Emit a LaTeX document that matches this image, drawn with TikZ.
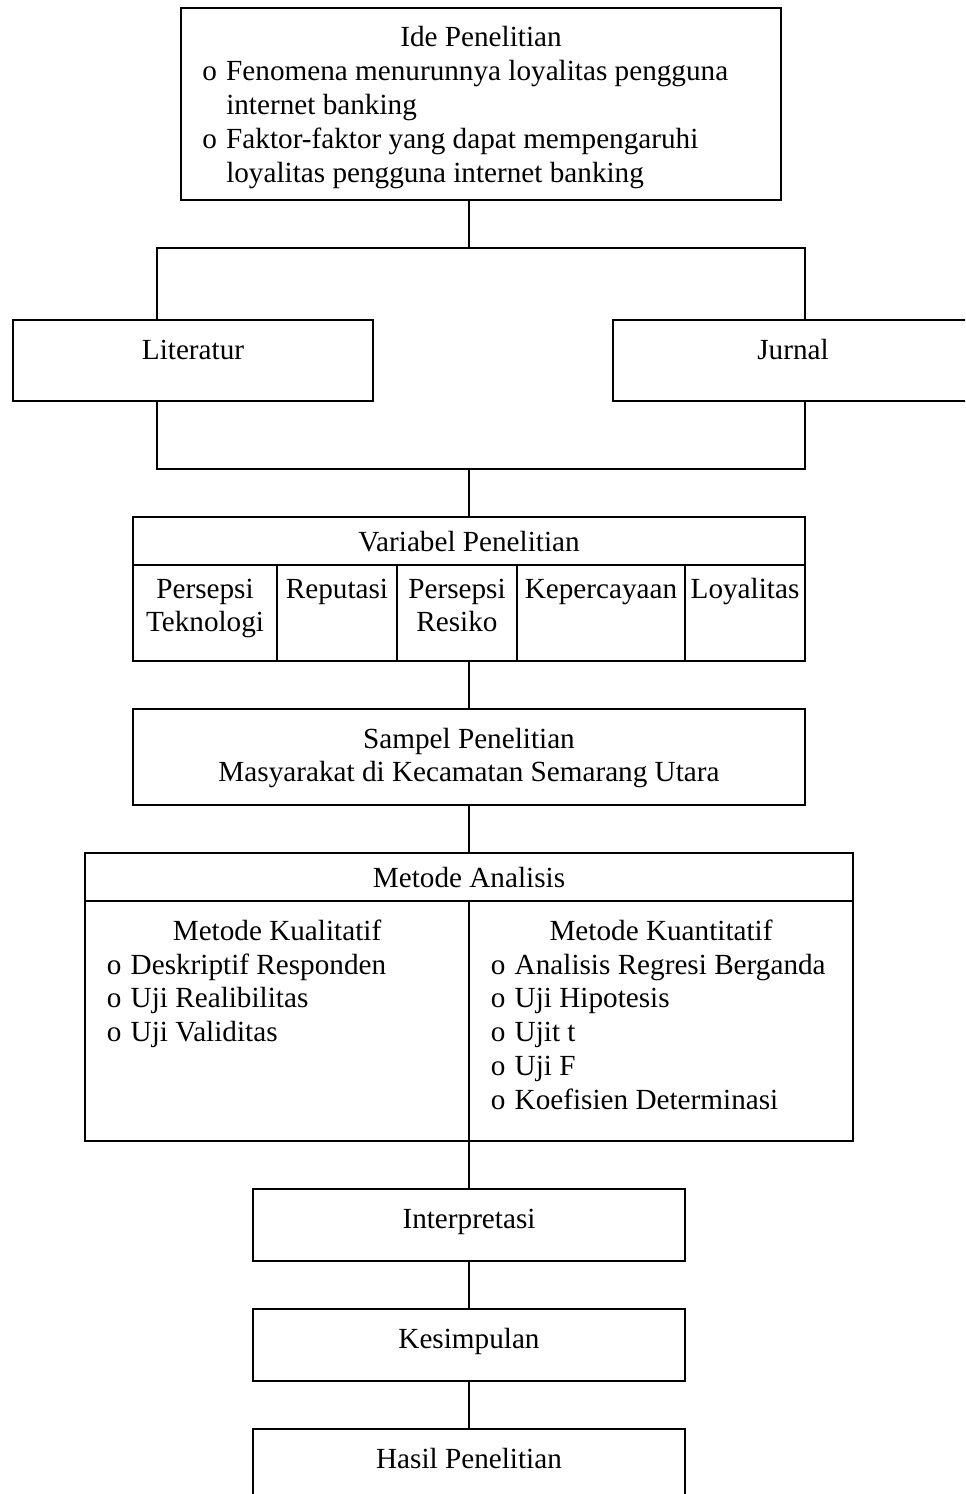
\documentclass[tikz,border=0pt]{standalone}
\usepackage{fontspec}
\setmainfont{Liberation Serif}
\usetikzlibrary{fit}
\newcommand\bul{\makebox[19.5pt][l]{\hspace{1.5pt}o}}
\begin{document}
\begin{tikzpicture}[x=0.75pt,y=-0.75pt,
  boxst/.style={draw, line width=1.4pt, inner sep=0pt},
  txt/.style={font=\fontsize{21.9pt}{25.4pt}\selectfont, inner sep=0pt, anchor=base},
  lst/.style={txt, anchor=base west},
  conn/.style={line width=1.4pt}]
\clip (0,0) rectangle (965,1494);
\fill[white] (0,0) rectangle (965,1494);

% boxes
\node[boxst, fit={(181,8)(781,200)}] (ide) {};
\node[boxst, fit={(13,320)(373,401)}] (lit) {};
\node[boxst, fit={(613,320)(973,401)}] (jur) {};
\node[boxst, fit={(133,517)(805,661)}] (var) {};
\node[boxst, fit={(133,517)(805,565)}] (varh) {};
\node[boxst, fit={(133,565)(277,661)}] (v1) {};
\node[boxst, fit={(277,565)(397,661)}] (v2) {};
\node[boxst, fit={(397,565)(517,661)}] (v3) {};
\node[boxst, fit={(517,565)(685,661)}] (v4) {};
\node[boxst, fit={(685,565)(805,661)}] (v5) {};
\node[boxst, fit={(133,709)(805,805)}] (sam) {};
\node[boxst, fit={(85,853)(853,1141)}] (met) {};
\node[boxst, fit={(85,853)(853,901)}] (meth) {};
\node[boxst, fit={(85,901)(469,1141)}] (metl) {};
\node[boxst, fit={(469,901)(853,1141)}] (metr) {};
\node[boxst, fit={(253,1189)(685,1261)}] (int) {};
\node[boxst, fit={(253,1309)(685,1381)}] (kes) {};
\node[boxst, fit={(253,1429)(685,1501)}] (has) {};

% texts
\node[txt] (ideT) at (481,47) {Ide Penelitian};
\node[lst] (ideL) at (200,81) {\begin{tabular}[t]{@{}l@{}l@{}}
\bul & Fenomena menurunnya loyalitas pengguna\\
 & internet banking\\
\bul & Faktor-faktor yang dapat mempengaruhi\\
 & loyalitas pengguna internet banking\end{tabular}};
\node[txt] (litT) at (193,359) {Literatur};
\node[txt] (jurT) at (793,359) {Jurnal};
\node[txt] (varT) at (469,551) {Variabel Penelitian};
\node[txt] (v1T) at (205,598) {\begin{tabular}[t]{@{}c@{}}Persepsi\\Teknologi\end{tabular}};
\node[txt] (v2T) at (337,598) {Reputasi};
\node[txt] (v3T) at (457,598) {\begin{tabular}[t]{@{}c@{}}Persepsi\\Resiko\end{tabular}};
\node[txt] (v4T) at (601,598) {Kepercayaan};
\node[txt] (v5T) at (745,598) {Loyalitas};
\node[txt] (samT) at (469,748) {\begin{tabular}[t]{@{}c@{}}Sampel Penelitian\\Masyarakat di Kecamatan Semarang Utara\end{tabular}};
\node[txt] (metT) at (469,887) {Metode Analisis};
\node[txt] (metlT) at (277,940) {Metode Kualitatif};
\node[lst] (metlL) at (104.5,974) {\begin{tabular}[t]{@{}l@{}l@{}}
\bul & Deskriptif Responden\\
\bul & Uji Realibilitas\\
\bul & Uji Validitas\end{tabular}};
\node[txt] (metrT) at (661,940) {Metode Kuantitatif};
\node[lst] (metrL) at (488.5,974) {\begin{tabular}[t]{@{}l@{}l@{}}
\bul & Analisis Regresi Berganda\\
\bul & Uji Hipotesis\\
\bul & Ujit t\\
\bul & Uji F\\
\bul & Koefisien Determinasi\end{tabular}};
\node[txt] (intT) at (469,1228) {Interpretasi};
\node[txt] (kesT) at (469,1348) {Kesimpulan};
\node[txt] (hasT) at (469,1468) {Hasil Penelitian};

% connectors
\coordinate (s1) at (469,248);
\coordinate (a) at (157,248);
\coordinate (b) at (805,248);
\coordinate (c) at (157,469);
\coordinate (d) at (805,469);
\coordinate (m) at (469,469);
\draw[conn] (ide.south -| s1) -- (s1);
\draw[conn] (lit.north -| a) -- (a) -- (b) -- (jur.north -| b);
\draw[conn] (lit.south -| c) -- (c) -- (d) -- (jur.south -| d);
\draw[conn] (m) -- (var.north -| m);
\draw[conn] (var.south -| m) -- (sam.north -| m);
\draw[conn] (sam.south -| m) -- (met.north -| m);
\draw[conn] (met.south -| m) -- (int.north);
\draw[conn] (int.south) -- (kes.north);
\draw[conn] (kes.south) -- (has.north);
\end{tikzpicture}
\end{document}
